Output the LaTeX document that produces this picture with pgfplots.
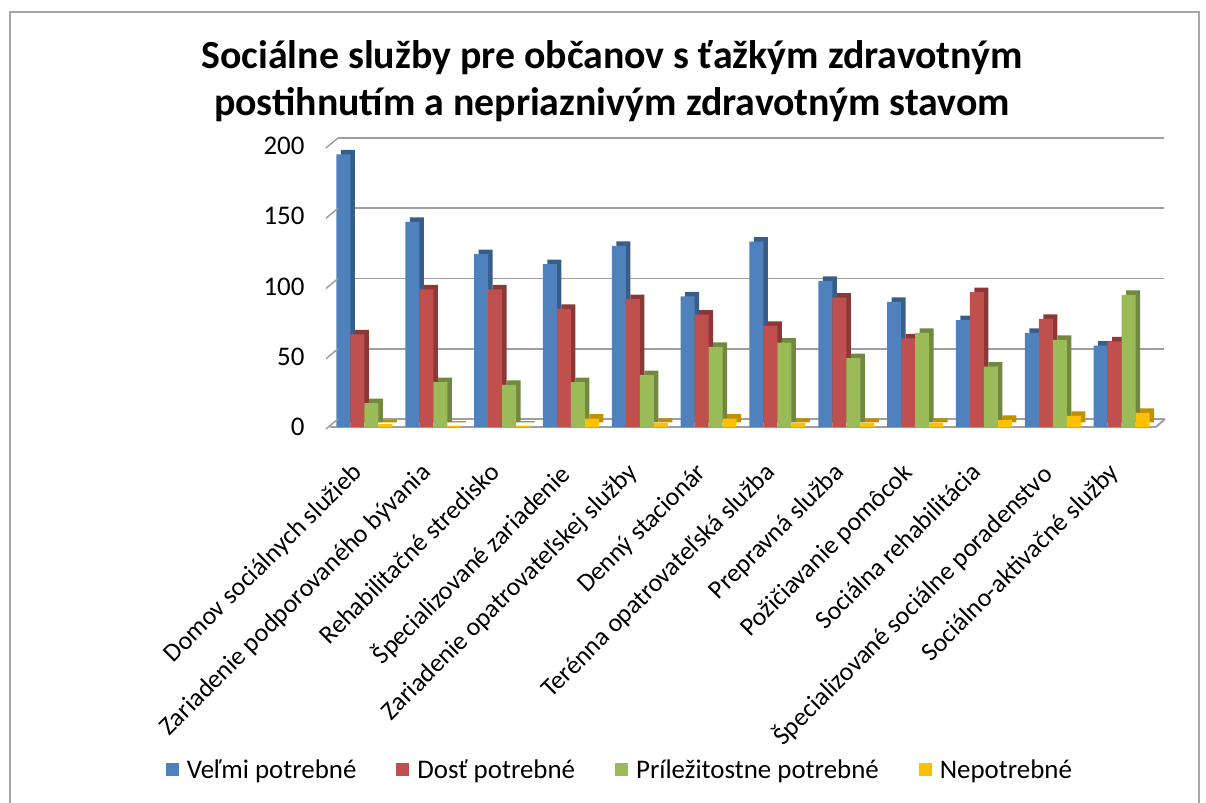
\documentclass[border=0pt]{standalone}
\usepackage{pgfplots}
\pgfplotsset{compat=1.18}
\usepackage{fontspec}
\setmainfont{Carlito}
\definecolor{cA}{HTML}{4F81BD}
\definecolor{cAd}{HTML}{385D8A}
\definecolor{cB}{HTML}{C0504D}
\definecolor{cBd}{HTML}{8C3836}
\definecolor{cC}{HTML}{9BBB59}
\definecolor{cCd}{HTML}{71893F}
\definecolor{cD}{HTML}{FFC000}
\definecolor{cDd}{HTML}{BF9000}
\newcommand{\legsq}[1]{\pgfsetfillcolor{#1}\pgfpathrectangle{\pgfpoint{0bp}{-6.5bp}}{\pgfpoint{13bp}{13bp}}\pgfusepath{fill}\pgfpathmoveto{\pgfpoint{19bp}{0bp}}\pgfusepath{discard}}
\begin{document}
\begin{tikzpicture}
\useasboundingbox (0bp,0bp) rectangle (1206bp,803bp);
\draw[gray!70, line width=1.5bp] (10bp,0bp) -- (10bp,791bp) -- (1199bp,791bp) -- (1199bp,0bp);
\node[font=\bfseries\fontsize{40}{47}\selectfont, align=center] at (612bp,722bp)
  {Sociálne služby pre občanov s ťažkým zdravotným\\postihnutím a nepriaznivým zdravotným stavom};
\begin{axis}[
  at={(330bp,376bp)}, anchor=south west,
  scale only axis, width=826bp, height=281bp,
  ymin=0, ymax=200, xmin=-0.5, xmax=11.5,
  ytick={0,50,100,150,200},
  xtick={0,...,11},
  xticklabels={Domov sociálnych služieb, Zariadenie podporovaného bývania, Rehabilitačné stredisko, Špecializované zariadenie, Zariadenie opatrovateľskej služby, Denný stacionár, Terénna opatrovateľská služba, Prepravná služba, Požičiavanie pomôcok, Sociálna rehabilitácia, Špecializované sociálne poradenstvo, Sociálno-aktivačné služby},
  /pgf/number format/assume math mode=true,
  ybar=0pt, bar width=14bp,
  clip=false,
  axis x line*=bottom, axis y line*=left,
  x axis line style={-, gray!75, line width=2bp},
  y axis line style={draw=none},
  major tick length=0pt,
  ymajorgrids,
  major grid style={gray!75, line width=1.6bp, transform canvas={shift={(8bp,8bp)}}},
  yticklabel style={font=\fontsize{27}{27}\selectfont, xshift=-22bp},
  xticklabel style={font=\fontsize{26}{26}\selectfont, xshift=-14bp, rotate=45, anchor=north east, inner sep=0pt},
  xticklabel shift=34bp,
  legend columns=4,
  legend style={at={(0.351,-1.22)}, anchor=center, draw=none, fill=none,
    font=\fontsize{27}{27}\selectfont,
    /tikz/every even column/.append style={column sep=38bp}},
]
\addplot[fill=cA, draw=none, preaction={fill=cAd, transform canvas={shift={(4.5bp,4.5bp)}}},
  legend image code/.code={\legsq{cA}}]
  coordinates {(0,194) (1,146) (2,123) (3,116) (4,129) (5,93) (6,132) (7,104) (8,89) (9,76) (10,67) (11,58)};
\addlegendentry{Veľmi potrebné}
\addplot[fill=cB, draw=none, preaction={fill=cBd, transform canvas={shift={(4.5bp,4.5bp)}}},
  legend image code/.code={\legsq{cB}}]
  coordinates {(0,66) (1,98) (2,98) (3,84) (4,91) (5,80) (6,72) (7,92) (8,63) (9,96) (10,77) (11,61)};
\addlegendentry{Dosť potrebné}
\addplot[fill=cC, draw=none, preaction={fill=cCd, transform canvas={shift={(4.5bp,4.5bp)}}},
  legend image code/.code={\legsq{cC}}]
  coordinates {(0,17) (1,32) (2,30) (3,32) (4,37) (5,57) (6,60) (7,49) (8,67) (9,43) (10,62) (11,94)};
\addlegendentry{Príležitostne potrebné}
\addplot[fill=cD, draw=none, preaction={fill=cDd, transform canvas={shift={(4.5bp,4.5bp)}}},
  legend image code/.code={\legsq{cD}}]
  coordinates {(0,2) (1,1) (2,1) (3,6) (4,3) (5,6) (6,3) (7,3) (8,3) (9,5) (10,8) (11,10)};
\addlegendentry{Nepotrebné}
\foreach \v in {0,50,100,150,200} {
  \edef\tmp{\noexpand\draw[gray!75, line width=1.5bp] (axis cs:-0.5,\v) ++(-4bp,-2bp) -- ++(12bp,10bp);}\tmp
}
\draw[gray!75, line width=2bp] (axis cs:11.5,0) -- ++(9bp,8bp);
\end{axis}
\end{tikzpicture}
\end{document}
